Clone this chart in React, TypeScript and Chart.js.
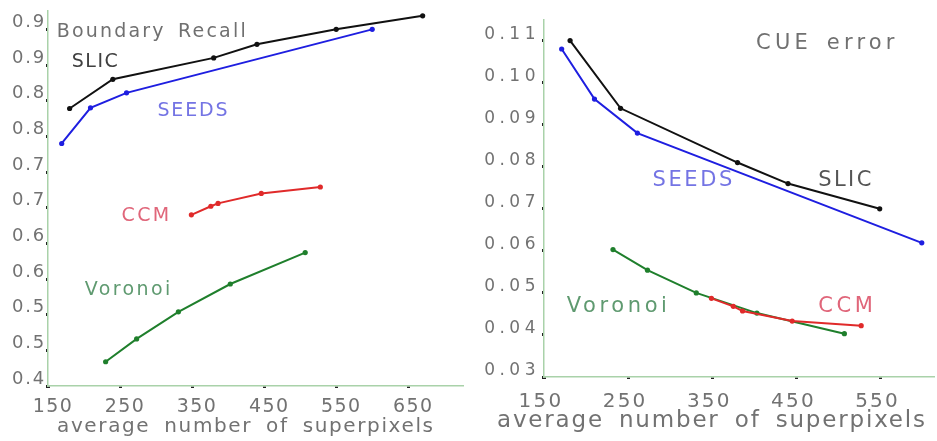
import React, { useEffect, useRef } from "react";
import { Chart, registerables } from "chart.js";

Chart.register(...registerables);

// ---------- Left panel: Boundary Recall ----------
const recallXTicks = [150, 250, 350, 450, 550, 650];
const recallYTicks = [0.4, 0.45, 0.5, 0.55, 0.6, 0.65, 0.7, 0.75, 0.8, 0.85, 0.9];
const recallYTickLabels = ["0.4", "0.5", "0.5", "0.6", "0.6", "0.7", "0.7", "0.8", "0.8", "0.9", "0.9"];
const recallSlicX = [180, 240, 380, 440, 550, 670];
const recallSlicY = [0.789, 0.83, 0.86, 0.879, 0.9, 0.919];
const recallSeedsX = [169, 209, 259, 600];
const recallSeedsY = [0.74, 0.79, 0.811, 0.9];
const recallCcmX = [349, 376, 386, 446, 528];
const recallCcmY = [0.64, 0.652, 0.656, 0.67, 0.679];
const recallVoronoiX = [230, 273, 331, 403, 507];
const recallVoronoiY = [0.434, 0.466, 0.504, 0.543, 0.587];

// ---------- Right panel: CUE error ----------
const cueXTicks = [150, 250, 350, 450, 550];
const cueYTicks = [0.03, 0.04, 0.05, 0.06, 0.07, 0.08, 0.09, 0.1, 0.11];
const cueYTickLabels = ["0.03", "0.04", "0.05", "0.06", "0.07", "0.08", "0.09", "0.10", "0.11"];
const cueSlicX = [181, 241, 380, 440, 549];
const cueSlicY = [0.11, 0.0939, 0.081, 0.076, 0.07];
const cueSeedsX = [171, 210, 261, 599];
const cueSeedsY = [0.108, 0.0961, 0.088, 0.0619];
const cueCcmX = [349, 375, 386, 445, 527];
const cueCcmY = [0.0487, 0.0468, 0.0457, 0.0433, 0.0422];
const cueVoronoiX = [232, 273, 331, 403, 507];
const cueVoronoiY = [0.0603, 0.0554, 0.05, 0.0452, 0.0403];

const xTitle = "average number of superpixels";

// text annotations (data coordinates)
const recallNotes = [
  { text: "Boundary Recall", x: 162, y: 0.896, color: "#707070", sp: 2.2 },
  { text: "SLIC", x: 183, y: 0.854, color: "#404040", sp: 1.5 },
  { text: "SEEDS", x: 302, y: 0.785, color: "#7474e4", sp: 1.8 },
  { text: "CCM", x: 252, y: 0.638, color: "#e0667a", sp: 2.4 },
  { text: "Voronoi", x: 201, y: 0.534, color: "#5f9a70", sp: 2.4 },
];
const cueNotes = [
  { text: "CUE error", x: 402, y: 0.1094, color: "#707070", sp: 4.2 },
  { text: "SEEDS", x: 279, y: 0.0768, color: "#7474e4", sp: 2.6 },
  { text: "SLIC", x: 476, y: 0.0768, color: "#555555", sp: 2.4 },
  { text: "Voronoi", x: 177, y: 0.0468, color: "#5f9a70", sp: 3.6 },
  { text: "CCM", x: 476, y: 0.0468, color: "#e0667a", sp: 3.6 },
];

const FONT = "'DejaVu Sans', sans-serif";
const AXIS_GREEN = "#a9d2a9";
const TICK_TEXT = "#727272";

function pts(xs: number[], ys: number[]) {
  return xs.map((x, i) => ({ x, y: ys[i] }));
}

function series(label: string, xs: number[], ys: number[], color: string) {
  return {
    label,
    data: pts(xs, ys),
    borderColor: color,
    backgroundColor: color,
    borderWidth: 2,
    pointRadius: 2.6,
    pointHoverRadius: 2.6,
    pointBorderWidth: 0,
    showLine: true,
    tension: 0,
    clip: false as any,
  };
}

function wrapSpacing(scale: any, name: string, sp: number) {
  const flag = "__wrapped_" + name;
  if (scale[flag]) return;
  const orig = scale[name];
  scale[name] = function (...args: any[]) {
    const ctx = this.ctx;
    ctx.save();
    ctx.letterSpacing = sp + "px";
    orig.apply(this, args);
    ctx.restore();
  };
  scale[flag] = true;
}

function makeChart(
  canvas: HTMLCanvasElement,
  cfg: {
    datasets: any[];
    xMin: number;
    xMax: number;
    yMin: number;
    yMax: number;
    xTicks: number[];
    yTicks: number[];
    yLabels: string[];
    yWidth: number;
    xHeight: number;
    padTop: number;
    padRight: number;
    xTickSp: number;
    yTickSp: number;
    tickFontX: number;
    tickFontY: number;
    titleFont: number;
    titleLeft: number;
    titleRight: number;
    titleY: number;
    titleWordSp: number;
    xTickPad: number;
    yTickPad: number;
    xLabelOffset: number;
    yLabelOffset: number;
    notes: { text: string; x: number; y: number; color: string; sp: number }[];
    noteFont: number;
  }
) {
  const notesPlugin = {
    id: "notes",
    afterDraw(chart: any) {
      const ctx = chart.ctx;
      const xs = chart.scales.x;
      const ys = chart.scales.y;
      ctx.save();
      ctx.font = `${cfg.noteFont}px ${FONT}`;
      ctx.textAlign = "left";
      ctx.textBaseline = "middle";
      for (const n of cfg.notes) {
        ctx.letterSpacing = n.sp + "px";
        ctx.wordSpacing = "4px";
        ctx.fillStyle = n.color;
        ctx.fillText(n.text, xs.getPixelForValue(n.x), ys.getPixelForValue(n.y));
      }
      // x axis title, stretched to the reference width
      ctx.font = `${cfg.titleFont}px ${FONT}`;
      ctx.letterSpacing = "0px";
      ctx.wordSpacing = cfg.titleWordSp + "px";
      const natural = ctx.measureText(xTitle).width;
      const target = cfg.titleRight - cfg.titleLeft;
      const sp = Math.max(0, (target - natural) / (xTitle.length - 1));
      ctx.letterSpacing = sp + "px";
      ctx.fillStyle = TICK_TEXT;
      ctx.fillText(xTitle, cfg.titleLeft, cfg.titleY);
      ctx.restore();
    },
  };

  return new Chart(canvas, {
    type: "scatter",
    data: { datasets: cfg.datasets },
    options: {
      animation: false,
      responsive: false,
      devicePixelRatio: 1,
      layout: { padding: { top: cfg.padTop, right: cfg.padRight, left: 0, bottom: 0 } },
      plugins: { legend: { display: false }, tooltip: { enabled: false }, title: { display: false } },
      scales: {
        x: {
          type: "linear",
          min: cfg.xMin,
          max: cfg.xMax,
          afterFit(scale: any) {
            scale.height = cfg.xHeight;
          },
          afterUpdate(scale: any) {
            wrapSpacing(scale, "drawLabels", cfg.xTickSp);
          },
          afterBuildTicks(scale: any) {
            scale.ticks = cfg.xTicks.map((v) => ({ value: v }));
          },
          ticks: {
            autoSkip: false,
            maxRotation: 0,
            minRotation: 0,
            color: TICK_TEXT,
            font: { family: FONT, size: cfg.tickFontX },
            padding: cfg.xTickPad,
            labelOffset: cfg.xLabelOffset,
            callback: (v: any) => String(v),
          },
          grid: {
            drawOnChartArea: false,
            drawTicks: true,
            tickLength: 2,
            tickWidth: 3,
            tickColor: "#222",
          },
          border: { display: true, color: AXIS_GREEN, width: 1.5 },
          title: { display: false },
        },
        y: {
          type: "linear",
          min: cfg.yMin,
          max: cfg.yMax,
          afterFit(scale: any) {
            scale.width = cfg.yWidth;
          },
          afterUpdate(scale: any) {
            wrapSpacing(scale, "drawLabels", cfg.yTickSp);
          },
          afterBuildTicks(scale: any) {
            scale.ticks = cfg.yTicks.map((v) => ({ value: v }));
          },
          ticks: {
            autoSkip: false,
            color: TICK_TEXT,
            font: { family: FONT, size: cfg.tickFontY },
            padding: cfg.yTickPad,
            labelOffset: cfg.yLabelOffset,
            callback: (_v: any, i: number) => cfg.yLabels[i],
          },
          grid: {
            drawOnChartArea: false,
            drawTicks: true,
            tickLength: 2,
            tickWidth: 3,
            tickColor: "#222",
          },
          border: { display: true, color: AXIS_GREEN, width: 1.5 },
        },
      },
    } as any,
    plugins: [notesPlugin],
  });
}

export default function App() {
  const leftRef = useRef<HTMLCanvasElement>(null);
  const rightRef = useRef<HTMLCanvasElement>(null);

  useEffect(() => {
    const left = makeChart(leftRef.current!, {
      datasets: [
        series("SLIC", recallSlicX, recallSlicY, "#111111"),
        series("SEEDS", recallSeedsX, recallSeedsY, "#1e1ee0"),
        series("CCM", recallCcmX, recallCcmY, "#e02a2a"),
        series("Voronoi", recallVoronoiX, recallVoronoiY, "#1f7f2c"),
      ],
      xMin: 150,
      xMax: 726,
      yMin: 0.4,
      yMax: 0.926,
      xTicks: recallXTicks,
      yTicks: recallYTicks,
      yLabels: recallYTickLabels,
      yWidth: 48,
      xHeight: 55,
      padTop: 5,
      padRight: 7,
      xTickSp: 1.4,
      yTickSp: 1.8,
      tickFontX: 19,
      tickFontY: 18,
      titleFont: 20,
      titleLeft: 57,
      titleRight: 433,
      titleY: 427,
      titleWordSp: 6,
      xTickPad: 8,
      yTickPad: 0,
      xLabelOffset: 5,
      yLabelOffset: -7,
      notes: recallNotes,
      noteFont: 19,
    });
    const right = makeChart(rightRef.current!, {
      datasets: [
        series("SLIC", cueSlicX, cueSlicY, "#111111"),
        series("SEEDS", cueSeedsX, cueSeedsY, "#1e1ee0"),
        series("CCM", cueCcmX, cueCcmY, "#e02a2a"),
        series("Voronoi", cueVoronoiX, cueVoronoiY, "#1f7f2c"),
      ],
      xMin: 150,
      xMax: 614,
      yMin: 0.03,
      yMax: 0.1149,
      xTicks: cueXTicks,
      yTicks: cueYTicks,
      yLabels: cueYTickLabels,
      yWidth: 74,
      xHeight: 64,
      padTop: 20,
      padRight: 0,
      xTickSp: 2.2,
      yTickSp: 4.5,
      tickFontX: 20,
      tickFontY: 17,
      titleFont: 23,
      titleLeft: 27,
      titleRight: 455,
      titleY: 421,
      titleWordSp: 6,
      xTickPad: 11,
      yTickPad: 2,
      xLabelOffset: -3,
      yLabelOffset: -6,
      notes: cueNotes,
      noteFont: 21,
    });
    return () => {
      left.destroy();
      right.destroy();
    };
  }, []);

  return (
    <div style={{ position: "absolute", left: 0, top: 0, width: 937, height: 441, background: "#fff" }}>
      <canvas
        ref={leftRef}
        width={470}
        height={441}
        style={{ position: "absolute", left: 0, top: 0, width: 470, height: 441 }}
      />
      <canvas
        ref={rightRef}
        width={467}
        height={441}
        style={{ position: "absolute", left: 470, top: 0, width: 467, height: 441 }}
      />
    </div>
  );
}
